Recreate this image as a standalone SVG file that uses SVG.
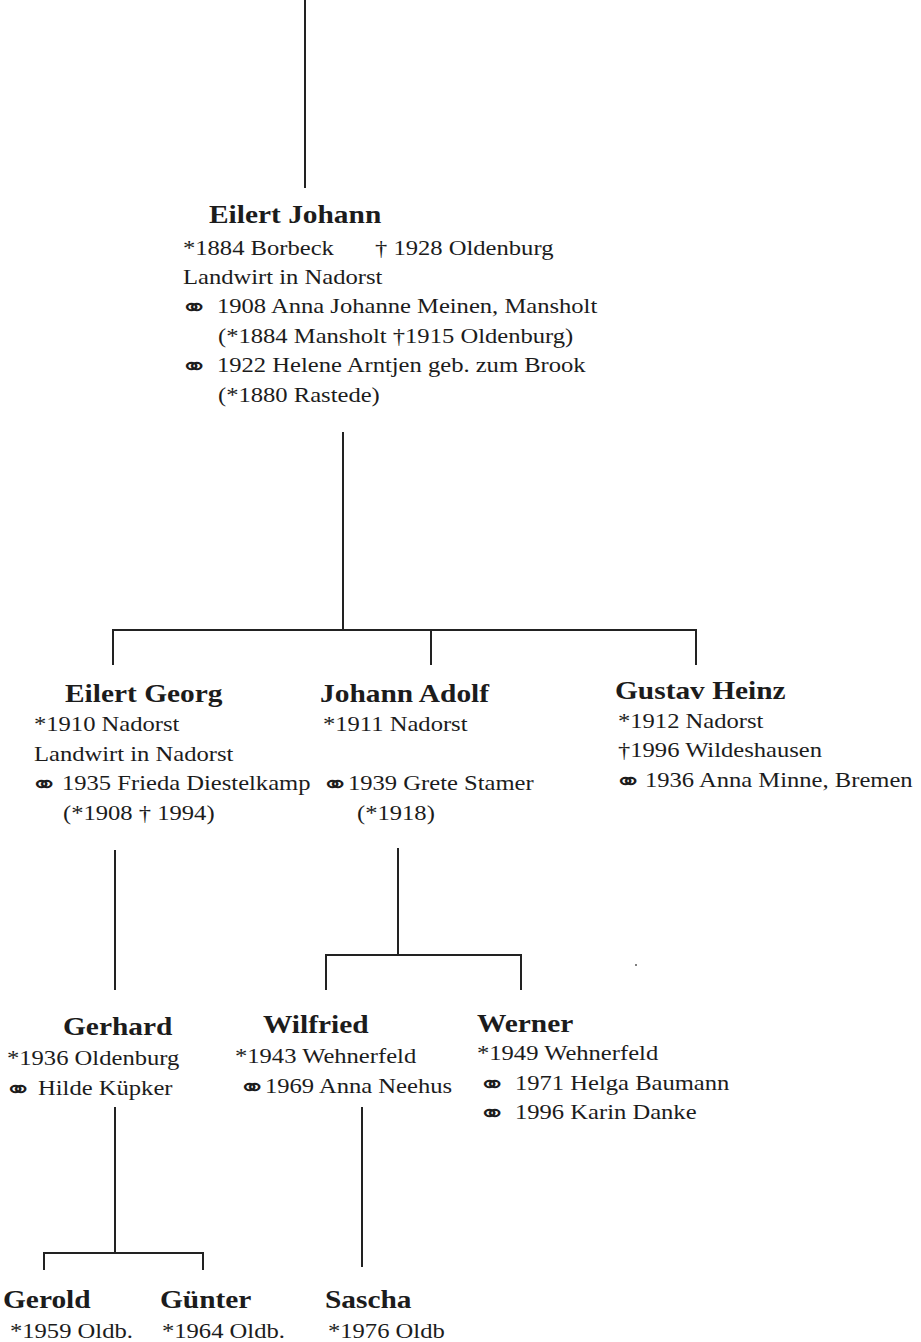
<svg xmlns="http://www.w3.org/2000/svg" width="921" height="1342" viewBox="0 0 921 1342">
<style>
.t{font-family:"Liberation Serif","Times New Roman",serif;font-size:20.5px;fill:#1c1c1c}
.b{font-weight:bold;font-size:24.5px}
.m{font-family:"DejaVu Sans",sans-serif;font-size:25px;fill:#1c1c1c}
.c{stroke:#222;stroke-width:2;fill:none}
</style>
<rect width="921" height="1342" fill="#fff"/>
<g id="connectors">
<path class="c" d="M305 0V188"/>
<path class="c" d="M343 432V630M113 665V630H696V665M431 630V665"/>
<path class="c" d="M115 850V990"/>
<path class="c" d="M398 848V955M326 990V955H521V990"/>
<path class="c" d="M115 1107V1253M44 1270V1253H203V1270"/>
<path class="c" d="M362 1107V1267"/>
</g>
<g id="eilert-johann">
<text class="t b" transform="translate(209 223) scale(1.2 1)">Eilert Johann</text>
<text class="t" transform="translate(183 255) scale(1.2 1)">*1884 Borbeck</text>
<text class="t" transform="translate(375 255) scale(1.2 1)">† 1928 Oldenburg</text>
<text class="t" transform="translate(183 284) scale(1.2 1)">Landwirt in Nadorst</text>
<text class="m" transform="translate(180 316) scale(1.35 1)">⚭</text>
<text class="t" transform="translate(217 313) scale(1.2 1)">1908 Anna Johanne Meinen, Mansholt</text>
<text class="t" transform="translate(218 343) scale(1.2 1)">(*1884 Mansholt  †1915 Oldenburg)</text>
<text class="m" transform="translate(180 375) scale(1.35 1)">⚭</text>
<text class="t" transform="translate(217 372) scale(1.2 1)">1922 Helene Arntjen geb. zum Brook</text>
<text class="t" transform="translate(218 402) scale(1.2 1)">(*1880 Rastede)</text>
</g>
<g id="eilert-georg">
<text class="t b" transform="translate(65 702) scale(1.2 1)">Eilert Georg</text>
<text class="t" transform="translate(34 731) scale(1.2 1)">*1910 Nadorst</text>
<text class="t" transform="translate(34 761) scale(1.2 1)">Landwirt in Nadorst</text>
<text class="m" transform="translate(30 793) scale(1.35 1)">⚭</text>
<text class="t" transform="translate(62 790) scale(1.2 1)">1935 Frieda Diestelkamp</text>
<text class="t" transform="translate(63 820) scale(1.2 1)">(*1908  † 1994)</text>
</g>
<g id="johann-adolf">
<text class="t b" transform="translate(320 702) scale(1.2 1)">Johann Adolf</text>
<text class="t" transform="translate(323 731) scale(1.2 1)">*1911 Nadorst</text>
<text class="m" transform="translate(321 793) scale(1.35 1)">⚭</text>
<text class="t" transform="translate(348 790) scale(1.2 1)">1939 Grete Stamer</text>
<text class="t" transform="translate(357 820) scale(1.2 1)">(*1918)</text>
</g>
<g id="gustav-heinz">
<text class="t b" transform="translate(615 699) scale(1.2 1)">Gustav Heinz</text>
<text class="t" transform="translate(618 728) scale(1.2 1)">*1912 Nadorst</text>
<text class="t" transform="translate(618 757) scale(1.2 1)">†1996 Wildeshausen</text>
<text class="m" transform="translate(614 790) scale(1.35 1)">⚭</text>
<text class="t" transform="translate(645 787) scale(1.2 1)">1936 Anna Minne, Bremen</text>
</g>
<g id="gerhard">
<text class="t b" transform="translate(63 1035) scale(1.2 1)">Gerhard</text>
<text class="t" transform="translate(7 1065) scale(1.2 1)">*1936 Oldenburg</text>
<text class="m" transform="translate(4 1098) scale(1.35 1)">⚭</text>
<text class="t" transform="translate(38 1095) scale(1.2 1)">Hilde Küpker</text>
</g>
<g id="wilfried">
<text class="t b" transform="translate(263 1033) scale(1.2 1)">Wilfried</text>
<text class="t" transform="translate(235 1063) scale(1.2 1)">*1943 Wehnerfeld</text>
<text class="m" transform="translate(238 1096) scale(1.35 1)">⚭</text>
<text class="t" transform="translate(265 1093) scale(1.2 1)">1969 Anna Neehus</text>
</g>
<g id="werner">
<text class="t b" transform="translate(477 1032) scale(1.2 1)">Werner</text>
<text class="t" transform="translate(477 1060) scale(1.2 1)">*1949 Wehnerfeld</text>
<text class="m" transform="translate(478 1093) scale(1.35 1)">⚭</text>
<text class="t" transform="translate(515 1090) scale(1.2 1)">1971 Helga Baumann</text>
<text class="m" transform="translate(478 1122) scale(1.35 1)">⚭</text>
<text class="t" transform="translate(515 1119) scale(1.2 1)">1996 Karin Danke</text>
</g>
<g id="gerold">
<text class="t b" transform="translate(3 1308) scale(1.2 1)">Gerold</text>
<text class="t" transform="translate(10 1338) scale(1.2 1)">*1959 Oldb.</text>
</g>
<g id="guenter">
<text class="t b" transform="translate(160 1308) scale(1.2 1)">Günter</text>
<text class="t" transform="translate(162 1338) scale(1.2 1)">*1964 Oldb.</text>
</g>
<g id="sascha">
<text class="t b" transform="translate(325 1308) scale(1.2 1)">Sascha</text>
<text class="t" transform="translate(328 1338) scale(1.2 1)">*1976 Oldb</text>
</g>
<circle cx="636" cy="965" r="1" fill="#555"/>
</svg>
